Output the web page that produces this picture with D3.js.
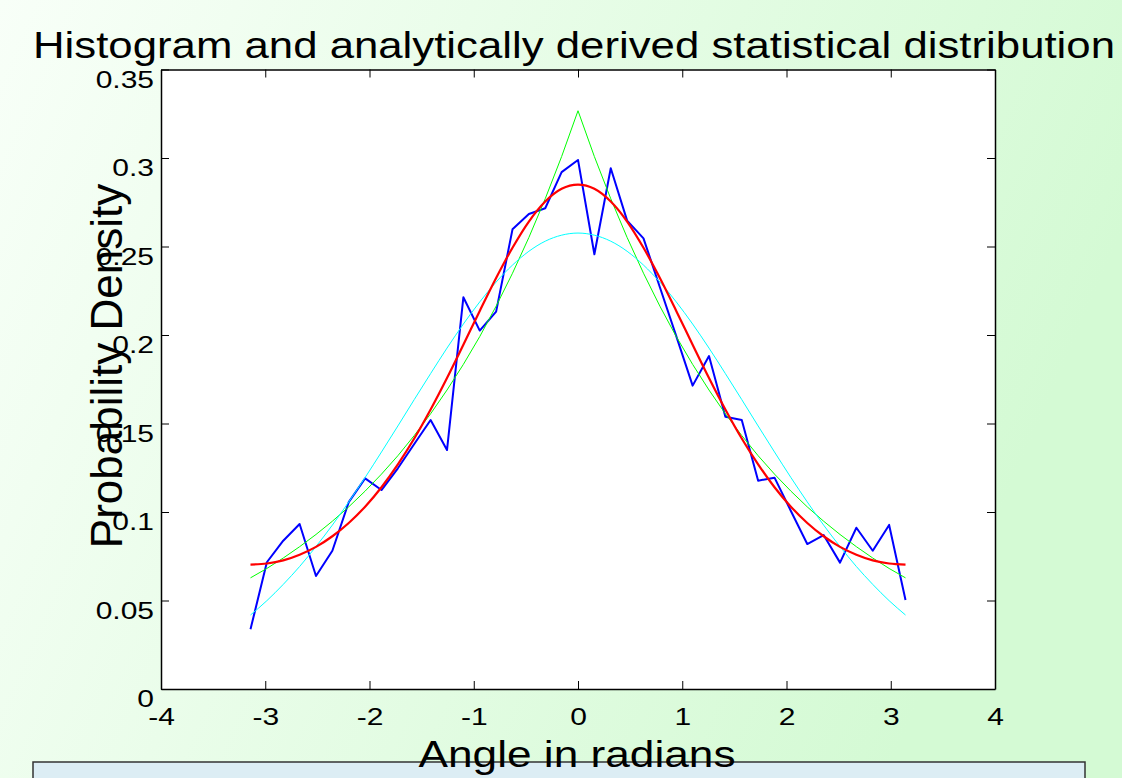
<!DOCTYPE html>
<meta charset="utf-8">
<html>
<head>
  <title>Histogram and analytical distribution</title>
  <script src="https://d3js.org/d3.v7.min.js"></script>
  <style>
    body { margin: 0; overflow: hidden; }
    text { font-family: "Liberation Sans", Arial, Helvetica, sans-serif; fill: #000; }
  </style>
</head>
<body>
<div id="my_dataviz"></div>
<script>

// angle bins (radians), -pi .. pi in 40 steps
var angles = [-3.1416, -2.9845, -2.8274, -2.6704, -2.5133, -2.3562, -2.1991, -2.0420, -1.8850, -1.7279,
              -1.5708, -1.4137, -1.2566, -1.0996, -0.9425, -0.7854, -0.6283, -0.4712, -0.3142, -0.1571,
               0.0000,  0.1571,  0.3142,  0.4712,  0.6283,  0.7854,  0.9425,  1.0996,  1.2566,  1.4137,
               1.5708,  1.7279,  1.8850,  2.0420,  2.1991,  2.3562,  2.5133,  2.6704,  2.8274,  2.9845,
               3.1416];

// histogram (blue)
var histo = [0.0337, 0.0716, 0.0838, 0.0932, 0.0638, 0.0781, 0.1056, 0.1190, 0.1124, 0.1247,
             0.1384, 0.1520, 0.1350, 0.2213, 0.2025, 0.2132, 0.2597, 0.2684, 0.2716, 0.2920,
             0.2989, 0.2456, 0.2942, 0.2646, 0.2546, 0.2270, 0.1994, 0.1714, 0.1881, 0.1538,
             0.1520, 0.1177, 0.1194, 0.1006, 0.0819, 0.0870, 0.0714, 0.0911, 0.0781, 0.0927,
             0.0503];

// analytically derived density (red)
var derived = [0.0703, 0.0709, 0.0727, 0.0759, 0.0803, 0.0863, 0.0938, 0.1030, 0.1140, 0.1269,
               0.1415, 0.1579, 0.1757, 0.1945, 0.2136, 0.2322, 0.2493, 0.2641, 0.2754, 0.2826,
               0.2850, 0.2826, 0.2754, 0.2641, 0.2493, 0.2322, 0.2136, 0.1945, 0.1757, 0.1579,
               0.1415, 0.1269, 0.1140, 0.1030, 0.0938, 0.0863, 0.0803, 0.0759, 0.0727, 0.0709,
               0.0703];

// laplace-like fit (green)
var laplace = [0.0628, 0.0681, 0.0740, 0.0804, 0.0873, 0.0948, 0.1029, 0.1118, 0.1214, 0.1318,
               0.1432, 0.1555, 0.1689, 0.1834, 0.1991, 0.2163, 0.2349, 0.2551, 0.2770, 0.3008,
               0.3267, 0.3008, 0.2770, 0.2551, 0.2349, 0.2163, 0.1991, 0.1834, 0.1689, 0.1555,
               0.1432, 0.1318, 0.1214, 0.1118, 0.1029, 0.0948, 0.0873, 0.0804, 0.0740, 0.0681,
               0.0628];

// gaussian fit (cyan)
var gauss = [0.0418, 0.0499, 0.0591, 0.0692, 0.0805, 0.0926, 0.1057, 0.1195, 0.1339, 0.1486,
             0.1635, 0.1782, 0.1926, 0.2062, 0.2187, 0.2299, 0.2395, 0.2473, 0.2530, 0.2564,
             0.2576, 0.2564, 0.2530, 0.2473, 0.2395, 0.2299, 0.2187, 0.2062, 0.1926, 0.1782,
             0.1635, 0.1486, 0.1339, 0.1195, 0.1057, 0.0926, 0.0805, 0.0692, 0.0591, 0.0499,
             0.0418];

var xTicks = [-4, -3, -2, -1, 0, 1, 2, 3, 4];
var yTicks = [0, 0.05, 0.1, 0.15, 0.2, 0.25, 0.3, 0.35];
var yTickLabels = ["0", "0.05", "0.1", "0.15", "0.2", "0.25", "0.3", "0.35"];

var W = 1122, H = 778;
var margin = {top: 69.5, right: 127, bottom: 89, left: 161},
    width = W - margin.left - margin.right,
    height = H - margin.top - margin.bottom;
var stretch = 1.25; // figure looks stretched sideways

var root = d3.select("#my_dataviz")
  .append("svg")
    .attr("width", W)
    .attr("height", H);

// green slide background
var defs = root.append("defs");
var grad = defs.append("linearGradient")
    .attr("id", "bg")
    .attr("x1", "0%").attr("y1", "0%")
    .attr("x2", "100%").attr("y2", "30%");
grad.append("stop").attr("offset", "0%").attr("stop-color", "#f8fff8");
grad.append("stop").attr("offset", "100%").attr("stop-color", "#d4fad4");
root.append("rect")
    .attr("width", W).attr("height", H)
    .attr("fill", "url(#bg)");

// caption box at the bottom of the slide
root.append("rect")
    .attr("x", 33).attr("y", 762)
    .attr("width", 1052).attr("height", 40)
    .attr("fill", "#dcedf4")
    .attr("stroke", "#333")
    .attr("stroke-width", 1.5);

var svg = root.append("g")
    .attr("transform", "translate(" + margin.left + "," + margin.top + ")");

// scales
var x = d3.scaleLinear().domain([-4, 4]).range([0, width]);
var y = d3.scaleLinear().domain([0, 0.35]).range([height, 0]);

// white plot area
svg.append("rect")
    .attr("width", width).attr("height", height)
    .attr("fill", "#fff");

// lines
var series = [
  {vals: histo,   color: "#0000ff", w: 2,   curve: d3.curveLinear},
  {vals: laplace, color: "#00ff00", w: 1,   curve: d3.curveLinear},
  {vals: gauss,   color: "#00ffff", w: 1,   curve: d3.curveMonotoneX},
  {vals: derived, color: "#ff0000", w: 2.2, curve: d3.curveMonotoneX}
];
series.forEach(function(s) {
  svg.append("path")
    .datum(angles)
    .attr("fill", "none")
    .attr("stroke", s.color)
    .attr("stroke-width", s.w)
    .attr("stroke-linejoin", "round")
    .attr("d", d3.line()
      .curve(s.curve)
      .x(function(d) { return x(d); })
      .y(function(d, i) { return y(s.vals[i]); }));
});

// axes (ticks point inward, on all four sides)
var gx = svg.append("g")
    .attr("transform", "translate(0," + height + ")")
    .call(d3.axisBottom(x).tickValues(xTicks).tickSize(-8).tickSizeOuter(0).tickPadding(19)
      .tickFormat(function(d) { return d; }));
var gy = svg.append("g")
    .call(d3.axisLeft(y).tickValues(yTicks).tickSize(-8).tickSizeOuter(0).tickPadding(7)
      .tickFormat(function(d, i) { return yTickLabels[i]; }));
var gt = svg.append("g")
    .call(d3.axisTop(x).tickValues(xTicks).tickSize(-8).tickSizeOuter(0).tickFormat(""));
var gr = svg.append("g")
    .attr("transform", "translate(" + width + ",0)")
    .call(d3.axisRight(y).tickValues(yTicks).tickSize(-8).tickSizeOuter(0).tickFormat(""));

[gx, gy, gt, gr].forEach(function(g) {
  g.select(".domain").attr("stroke", "#000").attr("stroke-width", 1.5);
  g.selectAll(".tick line").attr("stroke", "#000").attr("stroke-width", 1);
  g.selectAll("text").attr("font-size", 24)
    .attr("font-family", "'Liberation Sans', Arial, Helvetica, sans-serif");
});
gx.selectAll(".tick text")
    .attr("transform", "scale(" + stretch + ",1)");
gy.selectAll(".tick text")
    .attr("x", -7 / stretch)
    .attr("dy", "0.73em")
    .attr("transform", "scale(" + stretch + ",1)");

// title and axis labels
root.append("text")
    .attr("x", 574).attr("y", 58)
    .attr("text-anchor", "middle")
    .attr("font-size", 36)
    .attr("textLength", 1082)
    .attr("lengthAdjust", "spacingAndGlyphs")
    .text("Histogram and analytically derived statistical distribution");

root.append("text")
    .attr("x", 577).attr("y", 767)
    .attr("text-anchor", "middle")
    .attr("font-size", 36)
    .attr("textLength", 317)
    .attr("lengthAdjust", "spacingAndGlyphs")
    .text("Angle in radians");

root.append("text")
    .attr("transform", "translate(122,366)rotate(-90)")
    .attr("text-anchor", "middle")
    .attr("font-size", 44)
    .text("Probability Density");

</script>
</body>
</html>
